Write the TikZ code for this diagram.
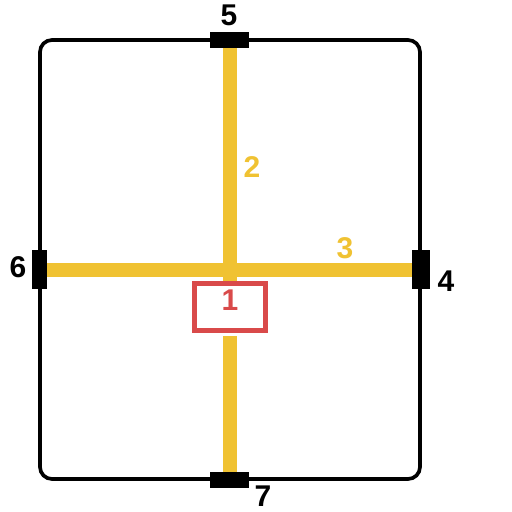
\documentclass[tikz,border=0pt]{standalone}
\usepackage{fontspec}
\usetikzlibrary{backgrounds}
\setmainfont{Liberation Sans}
\definecolor{ylw}{HTML}{F0C232}
\definecolor{rbox}{HTML}{D94A4A}
\begin{document}
\begin{tikzpicture}[x=1pt,y=-1pt,
  bar/.style={rectangle,fill=black,inner sep=0pt},
  num/.style={font=\fontsize{30}{30}\selectfont\bfseries,inner sep=0pt},
  rail/.style={draw=ylw,line width=14pt}]
\useasboundingbox (0,0) rectangle (512,512);
% frame
\draw[line width=3.7pt,rounded corners=12pt] (40,40) rectangle (420,479);
% bars
\node[bar,minimum width=39pt,minimum height=16pt] (top) at (229.5,39.5) {};
\node[bar,minimum width=15pt,minimum height=39pt] (left) at (39.5,269.5) {};
\node[bar,minimum width=18pt,minimum height=39pt] (right) at (421,269.5) {};
\node[bar,minimum width=39pt,minimum height=16pt] (bottom) at (229.5,480) {};
% red box
\node[rectangle,draw=rbox,line width=5pt,minimum width=71pt,minimum height=47.5pt,inner sep=0pt] (box) at (229.5,307) {};
% rails
\begin{pgfonlayer}{background}
\fill[white] (0,0) rectangle (512,512);
\path[rail] (left.east) -- (right.west);
\path[rail] (top.south) -- (box.north);
\path[rail,shorten <=2.8pt] (box.south) -- (bottom.north);
\end{pgfonlayer}
% labels
\node[num] (n5) at (229,15) {5};
\node[num] (n6) at (18,267) {6};
\node[num] (n4) at (446,281) {4};
\node[num] (n7) at (263,496) {7};
\node[num,text=ylw] (n2) at (252,167) {2};
\node[num,text=ylw] (n3) at (345,248) {3};
\node[num,text=rbox] (n1) at (230,300) {1};
\end{tikzpicture}
\end{document}
